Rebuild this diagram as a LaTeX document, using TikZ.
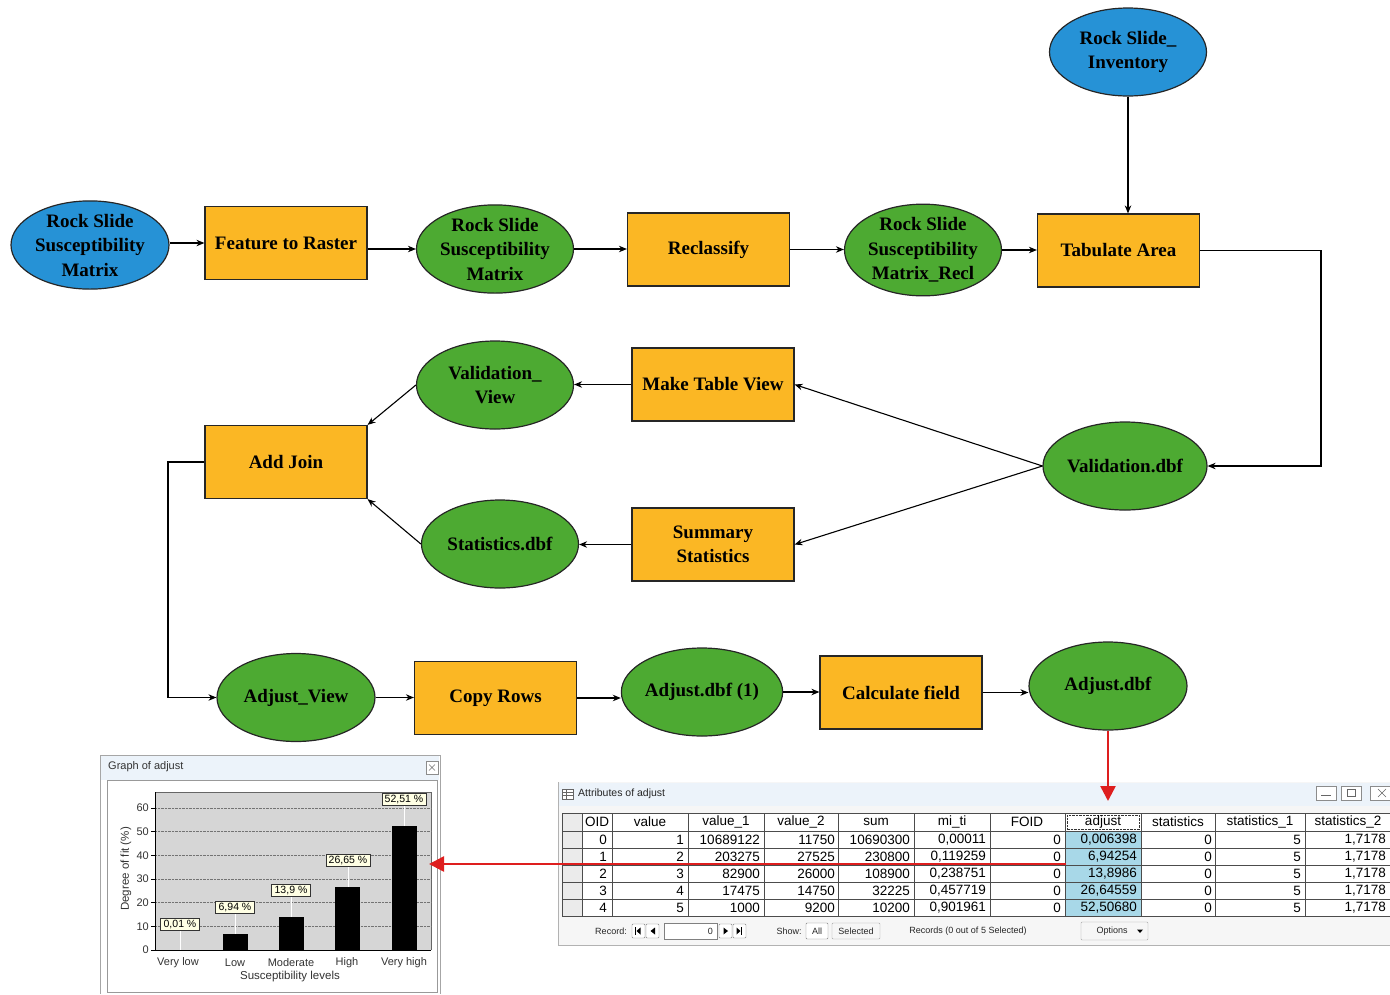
\documentclass[tikz,border=0pt]{standalone}
\usepackage{fontspec}
\setmainfont{Liberation Serif}
\newfontfamily\uisans{Liberation Sans}
\usetikzlibrary{shapes.geometric,arrows.meta}
\definecolor{boxorange}{RGB}{251,183,36}
\definecolor{elgreen}{RGB}{77,170,50}
\definecolor{elblue}{RGB}{38,146,214}
\definecolor{redarrow}{RGB}{222,30,30}
\definecolor{plotgray}{RGB}{214,214,214}
\definecolor{labelfill}{RGB}{255,255,228}
\definecolor{adjblue}{RGB}{168,216,232}
\definecolor{winbg}{RGB}{246,246,246}
\definecolor{titlebg}{RGB}{236,243,250}
\newcommand\nodefnt{\bfseries\fontsize{19}{24.5}\selectfont}
\begin{document}
\begin{tikzpicture}[x=1pt,y=-1pt,
  proc/.style={draw=black!85, line width=1.2pt, fill=boxorange, minimum width=162pt, minimum height=73pt, inner sep=0pt, font=\nodefnt, align=center},
  data/.style={ellipse, draw=black!85, line width=1.2pt, fill=elgreen, minimum width=157pt, minimum height=88pt, inner sep=0pt, font=\nodefnt, align=center},
  inputdata/.style={data, fill=elblue},
  flow/.style={line width=1.1pt, -{Stealth[length=8pt,width=6.5pt]}},
  redflow/.style={line width=2.5pt, redarrow, -{Triangle[length=15pt,width=15pt]}},
  chartlbl/.style={font=\uisans\fontsize{11}{12}\selectfont, text=black!80},
  valbox/.style={draw=black!80, fill=labelfill, inner xsep=3pt, inner ysep=1.5pt, font=\uisans\fontsize{10.5}{11}\selectfont},
  hdr/.style={font=\uisans\fontsize{13.5}{14}\selectfont},
  cell/.style={font=\uisans\fontsize{13.5}{14}\selectfont, anchor=east, inner sep=0pt},
  ui/.style={font=\uisans\fontsize{9}{10}\selectfont, text=black!85},
  uibtn/.style={draw=black!50, fill=white, rounded corners=1pt}
]
\useasboundingbox (0,0) rectangle (1390,994);

% ---------------- flow chart nodes ----------------
\node[inputdata, minimum width=158pt, minimum height=78pt] (rssm1) at (90,245) {Rock Slide\\Susceptibility\\Matrix};
\node[proc] (ftr) at (286,243) {Feature to Raster};
\node[data] (rssm2) at (495,249) {Rock Slide\\Susceptibility\\Matrix};
\node[proc] (recl) at (708.5,249.5) {Reclassify};
\node[data] (rssmr) at (923,250) {Rock Slide\\Susceptibility\\Matrix\_Recl};
\node[proc] (tab) at (1118.5,250.5) {Tabulate Area};
\node[inputdata] (inv) at (1128,52) {Rock Slide\_\\Inventory};
\node[data, minimum width=158pt] (val) at (1125,466) {Validation.dbf};
\node[proc] (mtv) at (713,384.5) {Make Table View};
\node[proc] (sumst) at (713,544.5) {Summary\\Statistics};
\node[data] (vview) at (495,385) {Validation\_\\View};
\node[data] (stat) at (500,544) {Statistics.dbf};
\node[proc] (addj) at (286,462) {Add Join};
\node[data, minimum width=158pt] (aview) at (296,697.5) {Adjust\_View};
\node[proc] (copy) at (495.5,698) {Copy Rows};
\node[data, minimum width=158pt] (adj1) at (702,692) {Adjust.dbf (1)};
\node[proc] (calc) at (901,692.5) {Calculate field};
\node[data, minimum width=158pt] (adj) at (1108,686) {Adjust.dbf};

\coordinate (rt) at (1321,466);
\coordinate (lt) at (168,697.5);
\coordinate (downtip) at (1108,801);
\coordinate (redstart) at (1066,864);
\coordinate (lefttip) at (429,864);

% ---------------- connectors ----------------
\draw[flow] (rssm1.east |- ftr.west) -- (ftr.west);
\draw[flow] (ftr.east |- rssm2.west) -- (rssm2.west);
\draw[flow] (rssm2.east) -- (rssm2.east -| recl.west);
\draw[flow] (recl.east) -- (recl.east -| rssmr.west);
\draw[flow] (rssmr.east) -- (rssmr.east -| tab.west);
\draw[flow] (inv.south) -- (inv.south |- tab.north);
\draw[flow] (tab.east) -| (rt) -- (val.east);
\draw[flow] (val.west) -- (mtv.east);
\draw[flow] (val.west) -- (sumst.east);
\draw[flow] (mtv.west) -- (mtv.west -| vview.east);
\draw[flow] (sumst.west) -- (sumst.west -| stat.east);
\draw[flow] (vview.west) -- (addj.north east);
\draw[flow] (stat.west) -- (addj.south east);
\draw[flow] (addj.west) -| (lt) -- (aview.west);
\draw[flow] (aview.east) -- (aview.east -| copy.west);
\draw[flow] (copy.east) -- (copy.east -| adj1.west);
\draw[flow] (adj1.east) -- (adj1.east -| calc.west);
\draw[flow] (calc.east) -- (calc.east -| adj.west);

% ---------------- chart window ----------------
\fill[white] (100,755) rectangle (440,994);
\fill[titlebg] (101,756) rectangle (439,780);
\draw[black!35] (100,994) -- (100,755) -- (440,755) -- (440,994);
\node[chartlbl, anchor=west, inner sep=0pt] (gtitle) at (108,767) {Graph of adjust};
\draw[black!45, fill=white] (426,761) rectangle (438,774);
\draw[black!55, line width=0.6pt] (429,764.5) -- (435,770.5) (435,764.5) -- (429,770.5);
\draw[black!40, fill=white] (107,780) rectangle (437,992);
\fill[plotgray] (155,792) rectangle (431,950);
\draw[black!60] (155,792) -- (431,792) -- (431,950);
\foreach \v in {10,20,30,40,50,60}
  \draw[black!55, densely dotted] (155,{950-2.37*\v}) -- (431,{950-2.37*\v});
\foreach \v in {0,10,20,30,40,50,60} {
  \draw[black] (151,{950-2.37*\v}) -- (155,{950-2.37*\v});
  \node[chartlbl, anchor=east, inner sep=1pt] at (150,{950-2.37*\v}) {\v};
}
\draw[black, line width=0.8pt] (155,792) -- (155,950) -- (431,950);
\node[chartlbl, font=\uisans\fontsize{11.5}{12}\selectfont, rotate=90] (ytitle) at (126,869) {Degree of fit (\%)};
% bars
\foreach \x/\v in {178/0.01, 235/6.94, 291/13.9, 347/26.65, 404/52.51}
  \fill[black] (\x-12.5,950) rectangle (\x+12.5,{950-2.37*\v});
% value labels with white leader lines
\draw[white, line width=0.8pt] (180,931) -- (180,950);
\draw[white, line width=0.8pt] (235,914) -- (235,933.5);
\draw[white, line width=0.8pt] (291,897) -- (291,917);
\draw[white, line width=0.8pt] (348,867) -- (348,887);
\draw[white, line width=0.8pt] (404,806) -- (404,826);
\node[valbox] (l1) at (180,924) {0,01 \%};
\node[valbox] (l2) at (235,907) {6,94 \%};
\node[valbox] (l3) at (291,890) {13,9 \%};
\node[valbox] (l4) at (348,860) {26,65 \%};
\node[valbox] (l5) at (404,799) {52,51 \%};
% x labels
\foreach \x/\t in {178/Very low, 235/Low, 291/Moderate, 347/High, 404/Very high}
  \node[chartlbl] at (\x,963) {\t};
\node[chartlbl, font=\uisans\fontsize{11.5}{12}\selectfont] (xtitle) at (290,977) {Susceptibility levels};

% ---------------- table window ----------------
\begin{scope}
\clip (0,0) rectangle (1390,994);
\fill[winbg] (558,782) rectangle (1395,945);
\fill[titlebg] (559,783) rectangle (1395,806);
\draw[black!30] (558,782) -- (558,945) -- (1395,945);
% title icon and text
\draw[black!60, fill=white] (562,789) rectangle (573,799);
\draw[black!60] (562,792) -- (573,792) (562,795.5) -- (573,795.5) (566,789) -- (566,799);
\node[ui, font=\uisans\fontsize{10.5}{11}\selectfont, anchor=west, inner sep=0pt] (ttitle) at (578,794) {Attributes of adjust};
% window buttons
\draw[black!45, fill=white] (1316,786) rectangle (1336,800);
\draw[black!60] (1321,795) -- (1331,795);
\draw[black!45, fill=white] (1341,786) rectangle (1361,800);
\draw[black!60] (1347,789.5) rectangle (1355,796.5);
\draw[black!45, fill=white] (1370,786) rectangle (1395,800);
\draw[black!60] (1378,789) -- (1386,797) (1386,789) -- (1378,797);
% table body
\fill[white] (562,813) rectangle (1395,916);
\fill[black!8] (562,813) rectangle (582,916);
\fill[adjblue] (1065,831) rectangle (1141,916);
\draw[black!70, line width=0.8pt] (562,813) rectangle (1400,916);
\foreach \yy in {831,848,865,882,899}
  \draw[black!70, line width=0.7pt] (562,\yy) -- (1400,\yy);
\foreach \xx in {582,612,688,764,838,914,990,1065,1141,1215,1305}
  \draw[black!70, line width=0.7pt] (\xx,813) -- (\xx,916);
\draw[black!80, densely dotted] (1067,815) rectangle (1139,829.5);
% header
\foreach \x/\t in {597/OID, 650/value, 726/value\_1, 801/value\_2, 876/sum, 952/mi\_ti, 1027/FOID, 1103/adjust, 1178/statistics, 1260/statistics\_1, 1348/statistics\_2}
  \node[hdr] at (\x,822) {\t};
% data cells
\foreach \y/\a/\b/\c/\d/\e/\f/\g in {
  839.5/0/1/10689122/11750/10690300/{0,00011}/{0,006398},
  856.5/1/2/203275/27525/230800/{0,119259}/{6,94254},
  873.5/2/3/82900/26000/108900/{0,238751}/{13,8986},
  890.5/3/4/17475/14750/32225/{0,457719}/{26,64559},
  907.5/4/5/1000/9200/10200/{0,901961}/{52,50680}} {
  \node[cell] at (607,\y) {\a};
  \node[cell] at (684,\y) {\b};
  \node[cell] at (760,\y) {\c};
  \node[cell] at (835,\y) {\d};
  \node[cell] at (910,\y) {\e};
  \node[cell] at (986,\y) {\f};
  \node[cell] at (1061,\y) {0};
  \node[cell] at (1137,\y) {\g};
  \node[cell] at (1212,\y) {0};
  \node[cell] at (1301,\y) {5};
  \node[cell] at (1386,\y) {1,7178};
}
% footer
\node[ui] (rec) at (611,931) {Record:};
\draw[uibtn] (632,924) rectangle (645,938);
\draw[black, line width=0.7pt] (635.5,927) -- (635.5,935);
\fill[black] (636.5,931) -- (640.5,927.5) -- (640.5,934.5) -- cycle;
\draw[uibtn] (646,924) rectangle (659,938);
\fill[black] (650.5,931) -- (655,927.5) -- (655,934.5) -- cycle;
\draw[black!50, fill=white] (664,923) rectangle (717,939);
\node[ui, anchor=east, inner sep=0pt] at (713,931) {0};
\draw[uibtn] (719,924) rectangle (732,938);
\fill[black] (728,931) -- (723.5,927.5) -- (723.5,934.5) -- cycle;
\draw[uibtn] (733,924) rectangle (746,938);
\fill[black] (740.5,931) -- (736.5,927.5) -- (736.5,934.5) -- cycle;
\draw[black, line width=0.7pt] (741.5,927) -- (741.5,935);
\node[ui] (show) at (789,931) {Show:};
\draw[uibtn] (806,923) rectangle (828,939);
\node[ui] at (817,931) {All};
\draw[uibtn, draw=black!35, fill=winbg] (832,923) rectangle (880,939);
\node[ui] at (856,931) {Selected};
\node[ui] (recs) at (968,931) {Records (0 out of 5 Selected)};
\draw[uibtn, draw=black!35, fill=winbg] (1081,922) rectangle (1148,940);
\node[ui] at (1112,931) {Options};
\fill[black] (1137,929.5) -- (1143,929.5) -- (1140,933) -- cycle;
\end{scope}

% ---------------- red arrows ----------------
\draw[redflow] (adj.south) -- (downtip);
\draw[redflow] (redstart) -- (lefttip);
\end{tikzpicture}
\end{document}
